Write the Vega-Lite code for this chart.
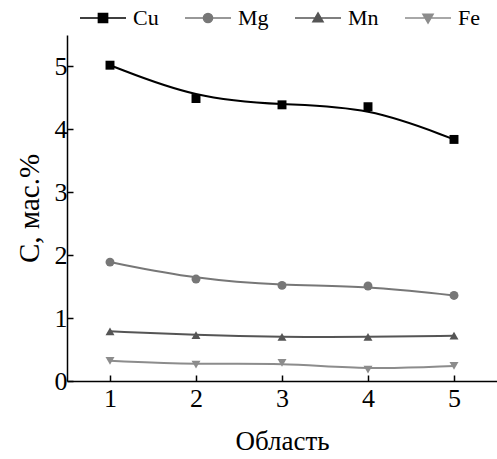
{
  "$schema": "https://vega.github.io/schema/vega-lite/v6.json",
  "width": 430,
  "height": 346,
  "autosize": {"type": "none"},
  "padding": {"left": 67, "top": 35, "right": 0, "bottom": 78},
  "background": "white",
  "config": {
    "view": {"stroke": null},
    "font": "Liberation Serif"
  },
  "data": {
    "values": [
      {"region": 1, "element": "Cu", "value": 5.02},
      {"region": 2, "element": "Cu", "value": 4.49},
      {"region": 3, "element": "Cu", "value": 4.39},
      {"region": 4, "element": "Cu", "value": 4.36},
      {"region": 5, "element": "Cu", "value": 3.84},
      {"region": 1, "element": "Mg", "value": 1.89},
      {"region": 2, "element": "Mg", "value": 1.62},
      {"region": 3, "element": "Mg", "value": 1.52},
      {"region": 4, "element": "Mg", "value": 1.51},
      {"region": 5, "element": "Mg", "value": 1.36},
      {"region": 1, "element": "Mn", "value": 0.79},
      {"region": 2, "element": "Mn", "value": 0.73},
      {"region": 3, "element": "Mn", "value": 0.70},
      {"region": 4, "element": "Mn", "value": 0.70},
      {"region": 5, "element": "Mn", "value": 0.72},
      {"region": 1, "element": "Fe", "value": 0.32},
      {"region": 2, "element": "Fe", "value": 0.26},
      {"region": 3, "element": "Fe", "value": 0.29},
      {"region": 4, "element": "Fe", "value": 0.18},
      {"region": 5, "element": "Fe", "value": 0.24}
    ]
  },
  "encoding": {
    "x": {
      "field": "region", "type": "quantitative",
      "scale": {"domain": [0.5, 5.5], "nice": false, "zero": false},
      "axis": {
        "title": "Область", "values": [1, 2, 3, 4, 5], "format": "d",
        "grid": false, "domainColor": "black", "domainWidth": 1.5,
        "tickColor": "black", "tickWidth": 1.5, "tickSize": -6,
        "labelFont": "Liberation Serif", "labelFontSize": 26, "labelColor": "black", "labelPadding": 10,
        "titleFont": "Liberation Serif", "titleFontSize": 27, "titleFontWeight": "normal", "titleColor": "black", "titlePadding": 17
      }
    },
    "y": {
      "field": "value", "type": "quantitative",
      "scale": {"domain": [0, 5.5], "nice": false},
      "axis": {
        "title": "C, мас.%", "values": [0, 1, 2, 3, 4, 5], "format": "d",
        "grid": false, "domainColor": "black", "domainWidth": 1.5,
        "tickColor": "black", "tickWidth": 1.5, "tickSize": -6,
        "labelFont": "Liberation Serif", "labelFontSize": 26, "labelColor": "black", "labelPadding": 6,
        "titleFont": "Liberation Serif", "titleFontSize": 29, "titleFontWeight": "normal", "titleColor": "black", "titlePadding": 10
      }
    },
    "color": {
      "field": "element", "type": "nominal",
      "scale": {"domain": ["Cu", "Mg", "Mn", "Fe"], "range": ["#000000", "#777777", "#555555", "#8c8c8c"]},
      "legend": {
        "title": null, "orient": "none", "direction": "horizontal",
        "legendX": 12, "legendY": -41,
        "symbolSize": 2116, "labelFont": "Liberation Serif", "labelFontSize": 22, "labelColor": "black",
        "labelOffset": 6, "columnPadding": 23,
        "encode": {
          "symbols": {
            "update": {
              "shape": {"signal": "datum.value === 'Cu' ? 'M-1,0H1M-0.2,-0.2H0.2V0.2H-0.2Z' : datum.value === 'Mg' ? 'M-1,0H1M-0.2,0A0.2,0.2,0,1,1,0.2,0A0.2,0.2,0,1,1,-0.2,0Z' : datum.value === 'Mn' ? 'M-1,0H1M0,-0.22L0.22,0.16L-0.22,0.16Z' : 'M-1,0H1M0,0.22L0.22,-0.16L-0.22,-0.16Z'"},
              "stroke": {"signal": "datum.value === 'Cu' ? '#000000' : datum.value === 'Mg' ? '#777777' : datum.value === 'Mn' ? '#555555' : '#8c8c8c'"},
              "fill": {"signal": "datum.value === 'Cu' ? '#000000' : datum.value === 'Mg' ? '#777777' : datum.value === 'Mn' ? '#555555' : '#8c8c8c'"},
              "strokeWidth": {"value": 1.5},
              "opacity": {"value": 1}
            }
          }
        }
      }
    }
  },
  "layer": [
    {
      "mark": {"type": "line", "interpolate": "basis", "strokeWidth": 2}
    },
    {
      "transform": [{"filter": "datum.element === 'Cu'"}],
      "mark": {"type": "point", "filled": true, "opacity": 1, "size": 80, "shape": "square"}
    },
    {
      "transform": [{"filter": "datum.element === 'Mg'"}],
      "mark": {"type": "point", "filled": true, "opacity": 1, "size": 80, "shape": "circle"}
    },
    {
      "transform": [{"filter": "datum.element === 'Mn'"}],
      "mark": {"type": "point", "filled": true, "opacity": 1, "size": 80, "shape": "triangle-up"}
    },
    {
      "transform": [{"filter": "datum.element === 'Fe'"}],
      "mark": {"type": "point", "filled": true, "opacity": 1, "size": 80, "shape": "triangle-down"}
    }
  ]
}
